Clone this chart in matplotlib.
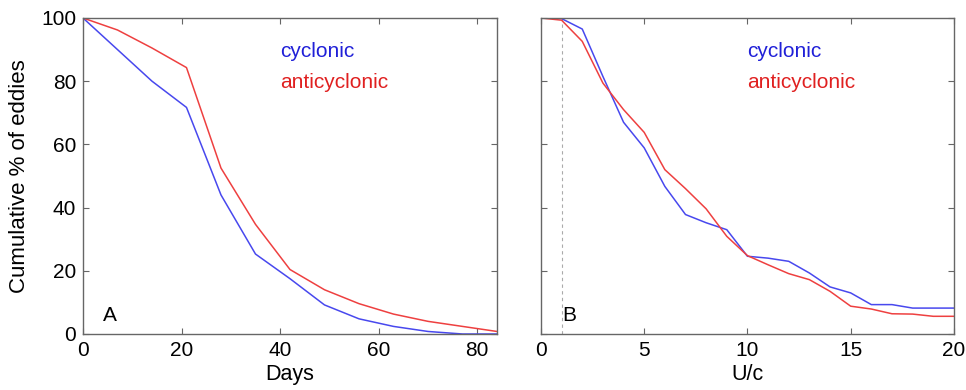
import numpy as np
import matplotlib.pyplot as plt

plt.rcParams['font.family'] = ['Liberation Sans', 'DejaVu Sans']

days = [0, 7, 14, 21, 28, 35, 42, 49, 56, 63, 70, 77, 84]
days_cyc = [100, 90, 80, 71.7, 44, 25.3, 17.5, 9.2, 4.8, 2.4, 0.8, 0, 0]
days_anti = [100, 96.2, 90.5, 84.3, 52.5, 34.7, 20.4, 14, 9.6, 6.3, 4, 2.4, 0.8]

uc = list(range(21))
uc_cyc = [100, 99.8, 96.5, 81.5, 67, 58.9, 46.7, 37.8, 35.2, 33, 24.6, 24, 23,
          19.3, 14.9, 13, 9.3, 9.3, 8.2, 8.2, 8.2]
uc_anti = [100, 99.3, 92.6, 79.4, 71, 63.8, 52, 46, 39.6, 30.9, 24.8, 21.9,
           19.1, 17.2, 13.5, 8.8, 7.9, 6.4, 6.3, 5.6, 5.6]

line_blue = '#4848ee'
line_red = '#ee4040'
txt_blue = '#2020d8'
txt_red = '#e02020'
frame = '#666666'

fig = plt.figure(figsize=(9.66, 3.9), dpi=100)
axA = fig.add_axes([0.0859, 0.1436, 0.4286, 0.8103])
axB = fig.add_axes([0.560, 0.1436, 0.4275, 0.8103])

axA.plot(days, days_cyc, color=line_blue, lw=1.1)
axA.plot(days, days_anti, color=line_red, lw=1.1)
axA.set_xlim(0, 84)
axA.set_xticks([0, 20, 40, 60, 80])
axA.set_xlabel('Days', fontsize=15.5, labelpad=3)
axA.set_ylabel('Cumulative % of eddies', fontsize=16, labelpad=8)
axA.text(40, 89.5, 'cyclonic', color=txt_blue, fontsize=15, va='center')
axA.text(40, 79.5, 'anticyclonic', color=txt_red, fontsize=15, va='center')
axA.text(4, 3, 'A', fontsize=15, va='bottom')

axB.axvline(1, color='#aaaaaa', ls=(0, (3, 3)), lw=0.8)
axB.plot(uc, uc_cyc, color=line_blue, lw=1.1)
axB.plot(uc, uc_anti, color=line_red, lw=1.1)
axB.set_xlim(0, 20)
axB.set_xticks([0, 5, 10, 15, 20])
axB.set_xlabel('U/c', fontsize=15.5, labelpad=3)
axB.tick_params(axis='y', labelleft=False)
axB.text(10, 89.5, 'cyclonic', color=txt_blue, fontsize=15, va='center')
axB.text(10, 79.5, 'anticyclonic', color=txt_red, fontsize=15, va='center')
axB.text(1.05, 3, 'B', fontsize=15, va='bottom')

for ax in (axA, axB):
    ax.set_ylim(0, 100)
    ax.set_yticks([0, 20, 40, 60, 80, 100])
    ax.tick_params(direction='in', top=True, right=True, length=4,
                   color=frame, labelsize=15, pad=5)
    for s in ax.spines.values():
        s.set_color(frame)
        s.set_linewidth(1.0)

fig.savefig('out.png', dpi=100)
